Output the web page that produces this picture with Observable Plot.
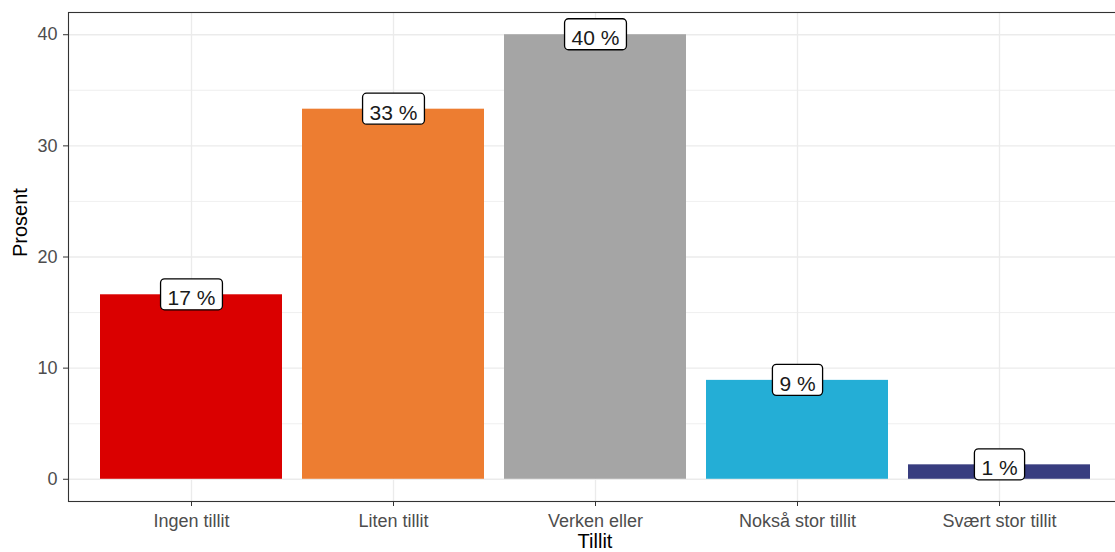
<!DOCTYPE html>
<html><head><meta charset="utf-8">
<script src="https://cdn.jsdelivr.net/npm/d3@7"></script>
<script src="https://cdn.jsdelivr.net/npm/@observablehq/plot@0.6"></script>
<style>html,body{margin:0;padding:0;overflow:hidden;background:#fff;} #chart{width:1115px;height:552px;overflow:hidden;}</style>
</head><body><div id="chart"></div>
<script>
const categories = ["Ingen tillit", "Liten tillit", "Verken eller", "Nokså stor tillit", "Svært stor tillit"];
const percents = [16.6, 33.3, 40.0, 8.9, 1.3];
const labels = ["17 %", "33 %", "40 %", "9 %", "1 %"];
const barColors = ["#DA0000", "#ED7D31", "#A5A5A5", "#24AED6", "#383D7F"];
const yTicks = [0, 10, 20, 30, 40];
const yMinorTicks = [5, 15, 25, 35];
const xTitle = "Tillit";
const yTitle = "Prosent";

const data = categories.map((c, i) => ({cat: c, pct: percents[i], label: labels[i], color: barColors[i]}));

const font = "'Liberation Sans', Arial, sans-serif";
const chart = Plot.plot({
  width: 1121, height: 552,
  marginLeft: 68, marginRight: 0, marginTop: 12, marginBottom: 51,
  style: {fontFamily: font, background: "#fff", overflow: "visible", maxWidth: "none"},
  x: {type: "band", domain: categories, paddingInner: 0.1, paddingOuter: 0.15, axis: null},
  y: {domain: [-2.0, 42.0], axis: null},
  color: {type: "identity"},
  marks: [
    Plot.gridY(yMinorTicks, {stroke: "#ebebeb", strokeOpacity: 1, strokeWidth: 0.8}),
    Plot.gridY(yTicks, {stroke: "#ebebeb", strokeOpacity: 1, strokeWidth: 1.3}),
    Plot.gridX(categories, {stroke: "#ebebeb", strokeOpacity: 1, strokeWidth: 1.3}),
    Plot.barY(data, {x: "cat", y: "pct", fill: "color"}),
    Plot.text(data, {x: "cat", y: "pct", text: "label", fontSize: 21, fill: "#1a1a1a", dy: 3.8}),
    Plot.frame({stroke: "#333", strokeWidth: 1.1}),
    Plot.axisY(yTicks, {tickSize: 5, tickPadding: 6, fontSize: 18, fill: "#4d4d4d", stroke: "#333", label: null}),
    Plot.axisX(categories, {tickSize: 5, tickPadding: 8, fontSize: 18, fill: "#4d4d4d", stroke: "#333", label: null}),
    Plot.text([xTitle], {text: d => d, frameAnchor: "bottom", lineAnchor: "top", dy: 32.5, fontSize: 20, fill: "#000"}),
    Plot.text([yTitle], {text: d => d, frameAnchor: "left", rotate: -90, dx: -48, fontSize: 20, fill: "#000"})
  ]
});
document.getElementById("chart").append(chart);

// geom_label-style boxes behind the value labels
const yScale = chart.scale("y");
const svgRect = chart.getBoundingClientRect();
const allTexts = Array.from(chart.querySelectorAll("text"));
labels.forEach((lab, i) => {
  const t = allTexts.find(el => el.textContent === lab);
  if (!t) return;
  const r = t.getBoundingClientRect();
  const cy = yScale.apply(percents[i]);
  const padX = 7, h = 31;
  const rect = document.createElementNS("http://www.w3.org/2000/svg", "rect");
  rect.setAttribute("x", r.left - svgRect.left - padX);
  rect.setAttribute("width", r.width + 2 * padX);
  rect.setAttribute("y", cy - h / 2);
  rect.setAttribute("height", h);
  rect.setAttribute("rx", 4);
  rect.setAttribute("fill", "#fff");
  rect.setAttribute("stroke", "#000");
  rect.setAttribute("stroke-width", 1.3);
  let top = t.parentNode;
  while (top.parentNode && top.parentNode !== chart) top = top.parentNode;
  chart.insertBefore(rect, top);
});
</script>
</body></html>
